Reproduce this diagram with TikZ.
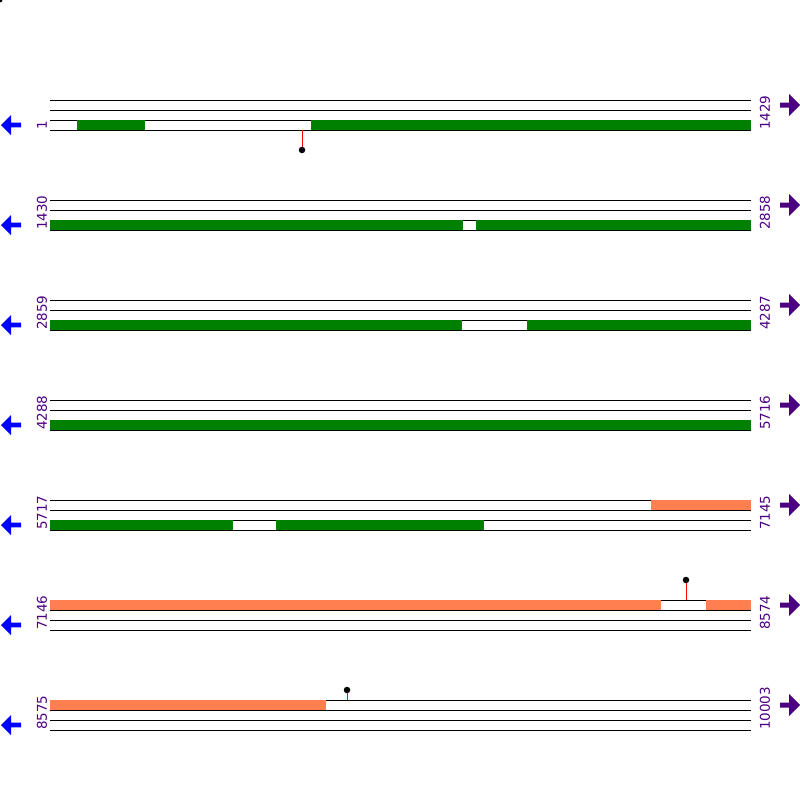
\documentclass[tikz,border=0pt]{standalone}
\usepackage{fontspec}
\setmainfont{DejaVu Sans}
\definecolor{fgreen}{HTML}{008000}
\definecolor{fcoral}{HTML}{FF7F50}
\definecolor{lblpurple}{HTML}{4B0082}
\begin{document}
\begin{tikzpicture}[x=1pt,y=-1pt,
  track/.style={black,line width=1pt},
  gbar/.style={fill=fgreen,draw=none},
  obar/.style={fill=fcoral,draw=none},
  numl/.style={lblpurple,font=\fontsize{13.5}{16}\selectfont,rotate=90,anchor=west,inner sep=0pt},
  numr/.style={lblpurple,font=\fontsize{13.5}{16}\selectfont,rotate=90,anchor=west,inner sep=0pt},
  pin/.style={red,line width=1pt},
  pinhead/.style={fill=black,draw=none,circle,minimum size=6.5pt,inner sep=0pt},
  larrow/.style={fill=blue,draw=none},
  rarrow/.style={fill=lblpurple,draw=none}]
\useasboundingbox (0,0) rectangle (800,800);
\fill[black] (0,0) circle (2.5);
% rows
\foreach \r/\yb/\ln/\rn in {1/100/1/1429,2/200/1430/2858,3/300/2859/4287,4/400/4288/5716,5/500/5717/7145,6/600/7146/8574,7/700/8575/10003}{
  \foreach \k in {0,10,20,30}{\draw[track] (50,\yb+\k) -- (751,\yb+\k);}
  \node[numl] (L\r) at (42,\yb+30) {\ln};
  \node[numr] (R\r) at (765,\yb+30) {\rn};
  \fill[larrow] (1,\yb+25) -- (11,\yb+15) -- (11,\yb+22.7) -- (21,\yb+22.7) -- (21,\yb+27.3) -- (11,\yb+27.3) -- (11,\yb+35) -- cycle;
  \fill[rarrow] (800,\yb+5) -- (789,\yb-6) -- (789,\yb+2.5) -- (780,\yb+2.5) -- (780,\yb+7.5) -- (789,\yb+7.5) -- (789,\yb+16) -- cycle;
}
% row 1
\fill[gbar] (77,120) rectangle (145,130);
\fill[gbar] (311,120) rectangle (751,130);
\coordinate (p1a) at (302,130);
\node[pinhead] (p1) at (302,150) {};
\draw[pin] (p1a) -- (p1);
% row 2
\fill[gbar] (50,220) rectangle (463,230);
\fill[gbar] (476,220) rectangle (751,230);
% row 3
\fill[gbar] (50,320) rectangle (462,330);
\fill[gbar] (527,320) rectangle (751,330);
% row 4
\fill[gbar] (50,420) rectangle (751,430);
% row 5
\fill[obar] (651,500) rectangle (751,510);
\fill[gbar] (50,520) rectangle (233,530);
\fill[gbar] (276,520) rectangle (484,530);
% row 6
\fill[obar] (50,600) rectangle (661,610);
\fill[obar] (706,600) rectangle (751,610);
\coordinate (p6a) at (686,600);
\node[pinhead] (p6) at (686,580) {};
\draw[pin] (p6a) -- (p6);
% row 7
\fill[obar] (50,700) rectangle (326,710);
\coordinate (p7a) at (347,700);
\node[pinhead] (p7) at (347,690) {};
\draw[pin] (p7a) -- (p7);
\end{tikzpicture}
\end{document}
